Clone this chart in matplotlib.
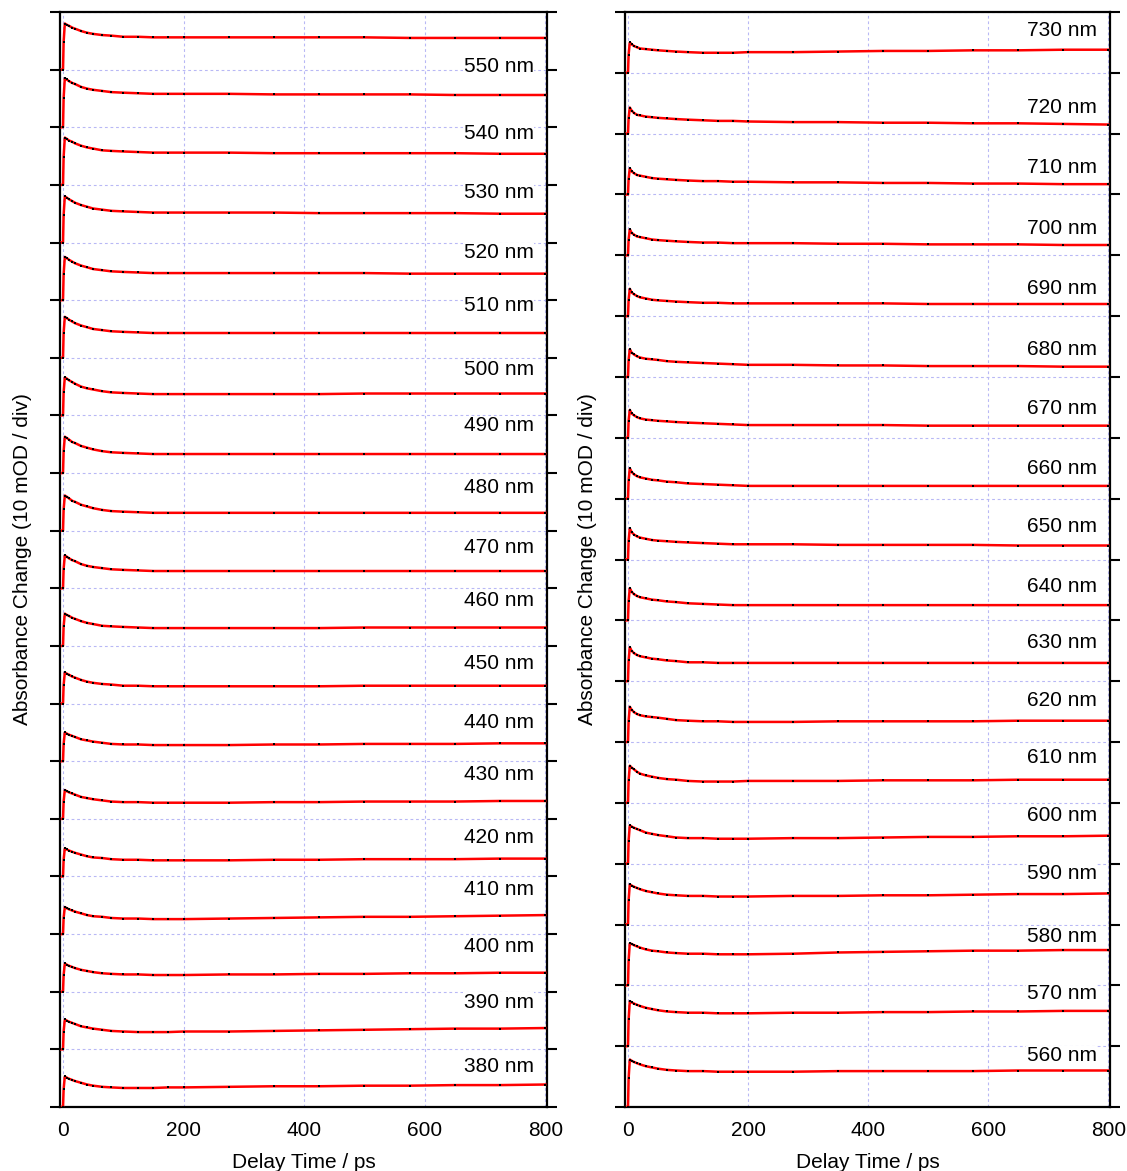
import numpy as np
import matplotlib
matplotlib.use("Agg")
import matplotlib.pyplot as plt

plt.rcParams['font.family'] = ['Liberation Sans', 'DejaVu Sans']

# ---------------- data (absorbance change in mOD) ----------------
delay_ps = [-5, 0, 1, 3, 6, 10, 15, 20, 30, 40, 50, 65, 80, 100, 125, 150,
            175, 200, 275, 350, 425, 500, 575, 650, 725, 800]

# left panel, top to bottom (top trace carries no visible label)
od_left_top = [0, 0, 4.8, 8.0, 7.8, 7.6, 7.3, 7.1, 6.7, 6.4, 6.2, 6.0, 5.9, 5.7, 5.7, 5.6, 5.6, 5.6, 5.6, 5.6, 5.6, 5.6, 5.5, 5.5, 5.5, 5.5]
od_550 = [0, 0, 5.1, 8.5, 8.3, 8.0, 7.7, 7.5, 7.0, 6.7, 6.5, 6.3, 6.1, 6.0, 5.9, 5.8, 5.8, 5.8, 5.8, 5.7, 5.7, 5.7, 5.7, 5.6, 5.6, 5.6]
od_540 = [0, 0, 4.9, 8.2, 8.0, 7.7, 7.5, 7.2, 6.8, 6.5, 6.3, 6.0, 5.9, 5.8, 5.7, 5.6, 5.6, 5.6, 5.6, 5.5, 5.5, 5.5, 5.5, 5.5, 5.4, 5.4]
od_530 = [0, 0, 4.8, 8.0, 7.8, 7.5, 7.2, 6.9, 6.5, 6.2, 5.9, 5.7, 5.5, 5.4, 5.3, 5.2, 5.2, 5.2, 5.2, 5.2, 5.1, 5.1, 5.1, 5.1, 5.0, 5.0]
od_520 = [0, 0, 4.5, 7.5, 7.3, 7.0, 6.7, 6.4, 6.0, 5.7, 5.4, 5.2, 5.0, 4.9, 4.8, 4.7, 4.7, 4.7, 4.7, 4.7, 4.7, 4.7, 4.6, 4.6, 4.6, 4.6]
od_510 = [0, 0, 4.3, 7.1, 6.9, 6.6, 6.3, 6.0, 5.6, 5.3, 5.0, 4.8, 4.6, 4.5, 4.4, 4.3, 4.3, 4.3, 4.3, 4.3, 4.3, 4.3, 4.3, 4.3, 4.3, 4.3]
od_500 = [0, 0, 4.0, 6.6, 6.4, 6.1, 5.8, 5.5, 5.0, 4.7, 4.5, 4.2, 4.0, 3.9, 3.8, 3.7, 3.7, 3.7, 3.7, 3.7, 3.7, 3.8, 3.8, 3.8, 3.8, 3.8]
od_490 = [0, 0, 3.8, 6.3, 6.1, 5.8, 5.4, 5.2, 4.7, 4.4, 4.1, 3.8, 3.6, 3.5, 3.4, 3.3, 3.3, 3.3, 3.3, 3.3, 3.3, 3.3, 3.3, 3.3, 3.3, 3.3]
od_480 = [0, 0, 3.7, 6.1, 5.9, 5.6, 5.2, 5.0, 4.5, 4.2, 3.9, 3.6, 3.4, 3.3, 3.2, 3.1, 3.1, 3.1, 3.1, 3.1, 3.1, 3.1, 3.1, 3.1, 3.1, 3.1]
od_470 = [0, 0, 3.4, 5.7, 5.5, 5.2, 4.9, 4.7, 4.2, 3.9, 3.7, 3.5, 3.3, 3.2, 3.1, 3.0, 3.0, 3.0, 3.0, 3.0, 3.0, 3.0, 3.0, 3.0, 3.0, 3.0]
od_460 = [0, 0, 3.4, 5.6, 5.4, 5.2, 4.9, 4.7, 4.3, 4.0, 3.8, 3.5, 3.4, 3.3, 3.2, 3.1, 3.1, 3.1, 3.1, 3.1, 3.1, 3.2, 3.2, 3.2, 3.2, 3.2]
od_450 = [0, 0, 3.2, 5.4, 5.2, 5.0, 4.7, 4.5, 4.1, 3.8, 3.6, 3.4, 3.3, 3.1, 3.1, 3.0, 3.0, 3.0, 3.0, 3.0, 3.0, 3.1, 3.1, 3.1, 3.1, 3.1]
od_440 = [0, 0, 3.0, 5.0, 4.8, 4.6, 4.4, 4.2, 3.8, 3.6, 3.4, 3.2, 3.0, 2.9, 2.9, 2.8, 2.8, 2.8, 2.8, 2.9, 2.9, 3.0, 3.0, 3.0, 3.1, 3.1]
od_430 = [0, 0, 3.0, 5.0, 4.8, 4.6, 4.4, 4.2, 3.8, 3.6, 3.4, 3.2, 3.0, 2.9, 2.9, 2.8, 2.8, 2.8, 2.8, 2.9, 2.9, 3.0, 3.0, 3.0, 3.1, 3.1]
od_420 = [0, 0, 2.9, 4.9, 4.7, 4.5, 4.3, 4.1, 3.8, 3.5, 3.3, 3.2, 3.0, 2.9, 2.9, 2.8, 2.8, 2.8, 2.8, 2.9, 2.9, 3.0, 3.0, 3.0, 3.1, 3.1]
od_410 = [0, 0, 2.8, 4.7, 4.5, 4.3, 4.1, 3.9, 3.6, 3.3, 3.1, 3.0, 2.8, 2.7, 2.7, 2.6, 2.6, 2.6, 2.7, 2.8, 2.9, 3.0, 3.0, 3.1, 3.2, 3.3]
od_400 = [0, 0, 2.9, 4.9, 4.7, 4.5, 4.3, 4.1, 3.8, 3.6, 3.4, 3.2, 3.1, 3.0, 3.0, 2.9, 2.9, 2.9, 3.0, 3.0, 3.1, 3.1, 3.2, 3.2, 3.3, 3.3]
od_390 = [0, 0, 3.1, 5.2, 5.0, 4.8, 4.6, 4.4, 4.0, 3.8, 3.6, 3.4, 3.2, 3.1, 3.0, 3.0, 3.0, 3.1, 3.1, 3.2, 3.3, 3.4, 3.5, 3.6, 3.6, 3.7]
od_380 = [0, 0, 3.1, 5.3, 5.1, 4.9, 4.7, 4.5, 4.2, 3.9, 3.7, 3.5, 3.4, 3.3, 3.3, 3.3, 3.4, 3.4, 3.5, 3.6, 3.6, 3.7, 3.7, 3.8, 3.8, 3.9]

# right panel, top to bottom
od_730 = [0, 0, 3.0, 5.0, 4.7, 4.4, 4.2, 4.0, 3.9, 3.8, 3.7, 3.6, 3.5, 3.4, 3.3, 3.3, 3.3, 3.4, 3.4, 3.5, 3.6, 3.6, 3.7, 3.7, 3.8, 3.8]
od_720 = [0, 0, 2.6, 4.3, 3.8, 3.4, 3.1, 3.0, 2.8, 2.7, 2.6, 2.5, 2.4, 2.3, 2.2, 2.1, 2.1, 2.0, 1.9, 1.9, 1.8, 1.8, 1.7, 1.7, 1.6, 1.5]
od_710 = [0, 0, 2.6, 4.3, 3.8, 3.5, 3.2, 3.1, 2.9, 2.7, 2.6, 2.5, 2.4, 2.3, 2.2, 2.2, 2.1, 2.1, 2.0, 2.0, 1.9, 1.9, 1.8, 1.8, 1.7, 1.7]
od_700 = [0, 0, 2.6, 4.3, 3.7, 3.4, 3.1, 3.0, 2.8, 2.6, 2.5, 2.4, 2.3, 2.2, 2.1, 2.1, 2.0, 2.0, 2.0, 1.9, 1.9, 1.8, 1.8, 1.8, 1.7, 1.7]
od_690 = [0, 0, 2.7, 4.5, 3.9, 3.6, 3.3, 3.1, 2.9, 2.7, 2.6, 2.5, 2.4, 2.3, 2.2, 2.2, 2.1, 2.1, 2.1, 2.1, 2.1, 2.0, 2.0, 2.0, 2.0, 2.0]
od_680 = [0, 0, 2.8, 4.6, 4.0, 3.7, 3.4, 3.2, 3.0, 2.9, 2.8, 2.6, 2.5, 2.4, 2.3, 2.2, 2.1, 2.0, 2.0, 1.9, 1.9, 1.8, 1.8, 1.8, 1.7, 1.7]
od_670 = [0, 0, 2.8, 4.6, 4.0, 3.7, 3.4, 3.2, 3.0, 2.9, 2.8, 2.7, 2.6, 2.5, 2.4, 2.3, 2.2, 2.1, 2.1, 2.1, 2.1, 2.0, 2.0, 2.0, 2.0, 2.0]
od_660 = [0, 0, 3.0, 5.0, 4.4, 4.0, 3.7, 3.5, 3.3, 3.1, 3.0, 2.8, 2.7, 2.5, 2.4, 2.3, 2.2, 2.1, 2.1, 2.1, 2.1, 2.1, 2.1, 2.1, 2.1, 2.1]
od_650 = [0, 0, 3.1, 5.1, 4.5, 4.1, 3.8, 3.6, 3.4, 3.2, 3.1, 3.0, 2.9, 2.8, 2.7, 2.6, 2.5, 2.5, 2.5, 2.4, 2.4, 2.4, 2.4, 2.3, 2.3, 2.3]
od_640 = [0, 0, 3.2, 5.3, 4.7, 4.3, 4.0, 3.8, 3.6, 3.4, 3.3, 3.1, 3.0, 2.8, 2.7, 2.6, 2.5, 2.5, 2.5, 2.5, 2.5, 2.5, 2.5, 2.5, 2.5, 2.5]
od_630 = [0, 0, 3.4, 5.6, 5.0, 4.6, 4.3, 4.1, 3.9, 3.7, 3.6, 3.4, 3.3, 3.1, 3.1, 3.0, 3.0, 3.0, 3.0, 3.0, 3.0, 3.0, 3.0, 3.0, 3.0, 3.0]
od_620 = [0, 0, 3.5, 5.8, 5.3, 4.9, 4.6, 4.4, 4.2, 4.1, 4.0, 3.8, 3.6, 3.5, 3.4, 3.4, 3.3, 3.3, 3.3, 3.4, 3.4, 3.4, 3.4, 3.5, 3.5, 3.5]
od_610 = [0, 0, 3.7, 6.1, 5.8, 5.5, 5.1, 4.8, 4.5, 4.3, 4.1, 3.9, 3.8, 3.6, 3.5, 3.5, 3.5, 3.6, 3.6, 3.6, 3.7, 3.7, 3.7, 3.8, 3.8, 3.8]
od_600 = [0, 0, 3.8, 6.3, 6.1, 5.9, 5.7, 5.5, 5.1, 4.9, 4.7, 4.5, 4.3, 4.2, 4.2, 4.1, 4.1, 4.1, 4.2, 4.2, 4.3, 4.4, 4.4, 4.5, 4.5, 4.6]
od_590 = [0, 0, 4.0, 6.6, 6.4, 6.2, 6.0, 5.8, 5.5, 5.3, 5.1, 4.9, 4.8, 4.7, 4.7, 4.6, 4.6, 4.6, 4.7, 4.7, 4.8, 4.8, 4.9, 5.0, 5.0, 5.1]
od_580 = [0, 0, 4.1, 6.9, 6.8, 6.6, 6.4, 6.2, 5.9, 5.7, 5.6, 5.4, 5.3, 5.2, 5.2, 5.1, 5.1, 5.1, 5.2, 5.4, 5.5, 5.6, 5.7, 5.7, 5.8, 5.8]
od_570 = [0, 0, 4.4, 7.4, 7.2, 7.0, 6.8, 6.6, 6.3, 6.1, 5.9, 5.7, 5.6, 5.5, 5.5, 5.4, 5.4, 5.4, 5.5, 5.5, 5.6, 5.6, 5.7, 5.7, 5.8, 5.8]
od_560 = [0, 0, 4.7, 7.8, 7.6, 7.4, 7.2, 7.0, 6.7, 6.5, 6.3, 6.1, 6.0, 5.9, 5.9, 5.8, 5.8, 5.8, 5.8, 5.9, 5.9, 5.9, 5.9, 6.0, 6.0, 6.0]

left_labels = ["", "550 nm", "540 nm", "530 nm", "520 nm", "510 nm", "500 nm",
               "490 nm", "480 nm", "470 nm", "460 nm", "450 nm", "440 nm",
               "430 nm", "420 nm", "410 nm", "400 nm", "390 nm", "380 nm"]
left_series = [od_left_top, od_550, od_540, od_530, od_520, od_510, od_500,
               od_490, od_480, od_470, od_460, od_450, od_440, od_430, od_420,
               od_410, od_400, od_390, od_380]
right_labels = ["730 nm", "720 nm", "710 nm", "700 nm", "690 nm", "680 nm",
                "670 nm", "660 nm", "650 nm", "640 nm", "630 nm", "620 nm",
                "610 nm", "600 nm", "590 nm", "580 nm", "570 nm", "560 nm"]
right_series = [od_730, od_720, od_710, od_700, od_690, od_680, od_670, od_660,
                od_650, od_640, od_630, od_620, od_610, od_600, od_590, od_580,
                od_570, od_560]
x_ticks = [0, 200, 400, 600, 800]

# ---------------- layout (label heights above each trace slot, mOD) ----------------
left_label_h = [0, 10.6, 8.9, 8.7, 8.2, 9.0, 8.0, 8.2, 7.5, 7.0, 7.8, 7.0, 6.8,
                7.7, 6.8, 7.7, 7.8, 8.2, 7.0]
right_label_h = [6.9, 4.3, 4.4, 4.4, 4.6, 4.6, 4.8, 4.9, 5.4, 5.6, 6.4, 6.9,
                 7.4, 7.9, 8.4, 8.1, 8.6, 8.4]

for s in left_series + right_series:
    assert len(s) == len(delay_ps), len(s)

W, H = 1127, 1171
fig = plt.figure(figsize=(W / 100, H / 100), dpi=100)
ax_l = fig.add_axes([60 / W, 64 / H, 487 / W, 1095 / H])
ax_r = fig.add_axes([625 / W, 64 / H, 485 / W, 1095 / H])

t = np.array(delay_ps, dtype=float)
FS = 15


def draw(ax, series, labels, label_h):
    n = len(series)
    for i, (vals, lab, lh) in enumerate(zip(series, labels, label_h)):
        off = 10 * (n - 1 - i)
        y = np.array(vals, dtype=float) + off
        ax.plot(t, y, color='#ff0000', lw=1.8, zorder=4, solid_joinstyle='round')
        ax.plot(t, y, ls='none', marker='s', ms=1.9, mfc='black', mec='black',
                mew=0, zorder=5)
        if lab:
            ax.text(781, off + lh, lab, ha='right', va='center', fontsize=FS,
                    zorder=3, bbox=dict(facecolor='white', edgecolor='none', pad=0.5))
    ax.set_xlim(-5, 803)
    ax.set_ylim(0, 10 * n)
    ax.set_yticks(np.arange(0, 10 * n + 1, 10))
    ax.set_xticks(x_ticks)
    ax.set_xticklabels([str(v) for v in x_ticks], fontsize=FS)
    ax.tick_params(axis='y', which='both', direction='out', length=7, width=1.5,
                   left=True, right=True, labelleft=False, labelright=False)
    ax.tick_params(axis='x', length=0, pad=10)
    ax.grid(True, color='#b8b8f5', lw=0.8, ls=(0, (2.5, 2.5)))
    ax.set_axisbelow(True)
    for sp in ax.spines.values():
        sp.set_linewidth(1.6)
    ax.set_xlabel("Delay Time / ps", fontsize=FS)
    ax.xaxis.set_label_coords(0.5, -0.042)
    ax.set_ylabel("Absorbance Change (10 mOD / div)", fontsize=FS)
    ax.yaxis.set_label_coords(-0.058, 0.5)


draw(ax_l, left_series, left_labels, left_label_h)
draw(ax_r, right_series, right_labels, right_label_h)

fig.savefig("out.png", dpi=100)
